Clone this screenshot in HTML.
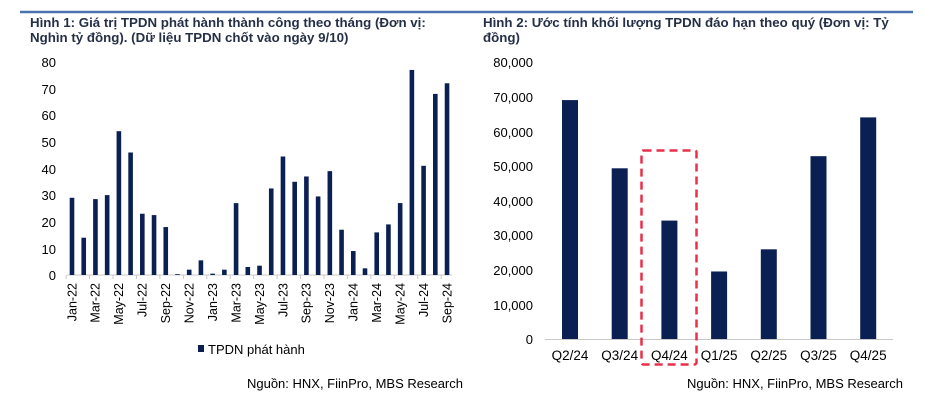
<!DOCTYPE html>
<html><head><meta charset="utf-8"><style>
body{margin:0;background:#fff;}
svg{display:block;font-family:"Liberation Sans",Arial,sans-serif;}
</style></head><body>
<svg width="944" height="404" viewBox="0 0 944 404" xmlns="http://www.w3.org/2000/svg">
<rect width="944" height="404" fill="#fff"/>
<line x1="20" y1="12" x2="470" y2="12" stroke="#4a72b0" stroke-width="2.5"/>
<line x1="470" y1="12" x2="913" y2="12" stroke="#4a72b0" stroke-width="2.5"/>
<g font-weight="bold" font-size="13.3" fill="#253047">
<text x="30" y="27">Hình 1: Giá trị TPDN phát hành thành công theo tháng (Đơn vị:</text>
<text x="30" y="42">Nghìn tỷ đồng). (Dữ liệu TPDN chốt vào ngày 9/10)</text>
<text x="483" y="27">Hình 2: Ước tính khối lượng TPDN đáo hạn theo quý (Đơn vị: Tỷ</text>
<text x="483" y="42">đồng)</text>
</g>
<g font-size="13" fill="#000" text-anchor="end">
<text x="56" y="67">80</text><text x="56" y="94">70</text><text x="56" y="120">60</text><text x="56" y="147">50</text><text x="56" y="174">40</text><text x="56" y="200">30</text><text x="56" y="227">20</text><text x="56" y="254">10</text><text x="56" y="280">0</text>
</g>
<line x1="67" y1="275" x2="452" y2="275" stroke="#c8c8c8" stroke-width="1"/>
<g id="bars" fill="#0a1f52"></g>
<g id="ticks" stroke="#c8c8c8"></g>
<g id="xl" font-size="12.5" fill="#000"></g>
<rect x="198" y="345" width="6" height="7" fill="#0a1f52"/>
<text x="208" y="354" font-size="13">TPDN phát hành</text>
<text x="463" y="388" font-size="13" text-anchor="end">Nguồn: HNX, FiinPro, MBS Research</text>
<text x="903" y="388" font-size="13" text-anchor="end">Nguồn: HNX, FiinPro, MBS Research</text>
<g font-size="13" fill="#000" text-anchor="end">
<text x="533" y="67">80,000</text><text x="533" y="102">70,000</text><text x="533" y="137">60,000</text><text x="533" y="171">50,000</text><text x="533" y="206">40,000</text><text x="533" y="240">30,000</text><text x="533" y="275">20,000</text><text x="533" y="310">10,000</text><text x="533" y="344">0</text>
</g>
<line x1="545" y1="339.5" x2="893" y2="339.5" stroke="#c8c8c8" stroke-width="1"/>
<g id="rb" fill="#0a1f52"></g>
<g id="rl" font-size="13.5" fill="#000" text-anchor="middle"></g>
<rect x="641.5" y="150.5" width="55" height="214" fill="none" stroke="#e8304a" stroke-width="2.5" stroke-dasharray="8,5" rx="2"/>
<script>
var ns="http://www.w3.org/2000/svg";
function el(t,a,p,txt){var e=document.createElementNS(ns,t);for(var k in a)e.setAttribute(k,a[k]);if(txt)e.textContent=txt;document.getElementById(p).appendChild(e);}
var v=[29,14,28.5,30,54,46,23,22.5,18,0.3,2,5.5,0.5,2,27,3,3.5,32.5,44.5,35,37,29.5,39,17,9,2.5,16,19,27,77,41,68,72];
var m=["Jan","Mar","May","Jul","Sep","Nov"];
for(var i=0;i<33;i++){var cx=72+i*11.72;var h=v[i]*2.663;
el("rect",{x:cx-2.3,y:275-h,width:4.6,height:h},"bars");
if(i%2==0){el("line",{x1:cx-5.86,y1:275,x2:cx-5.86,y2:279},"ticks");
var lab=m[(i/2)%6]+"-"+(22+Math.floor(i/12));
el("text",{x:0,y:0,"text-anchor":"end",transform:"translate("+(cx+4.3)+",283) rotate(-90)"},"xl",lab);}}
var rv=[69000,49300,34200,19500,25900,52800,64000];var rq=["Q2/24","Q3/24","Q4/24","Q1/25","Q2/25","Q3/25","Q4/25"];
for(var j=0;j<7;j++){var c=570+j*49.7;var hh=rv[j]*277/80000;
el("rect",{x:c-8,y:339-hh,width:16,height:hh},"rb");
el("text",{x:c,y:360},"rl",rq[j]);}
</script>
</svg>
</body></html>
